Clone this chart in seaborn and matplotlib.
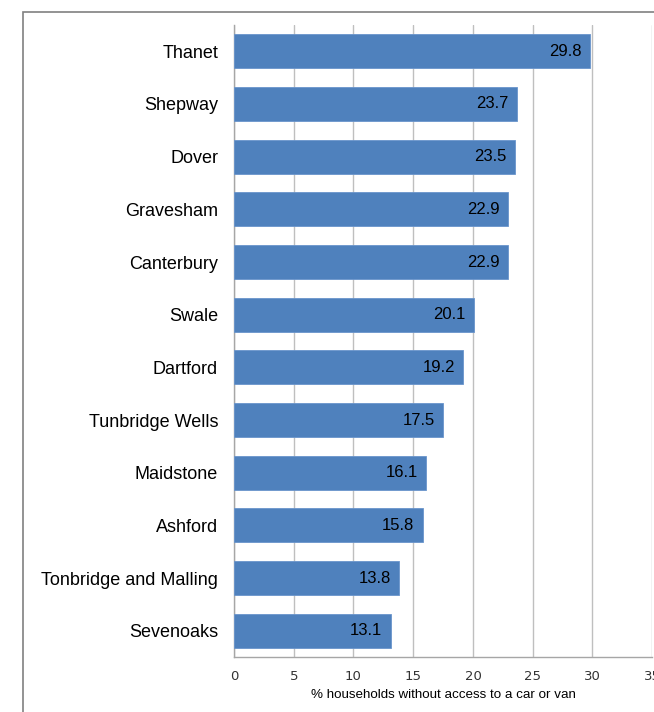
import pandas as pd
import numpy as np
import matplotlib
matplotlib.use('Agg')
import matplotlib.pyplot as plt
import seaborn as sns
from matplotlib.patches import Rectangle

districts = ['Thanet', 'Shepway', 'Dover', 'Gravesham', 'Canterbury', 'Swale',
             'Dartford', 'Tunbridge Wells', 'Maidstone', 'Ashford',
             'Tonbridge and Malling', 'Sevenoaks']
pct_no_car = [29.8, 23.7, 23.5, 22.9, 22.9, 20.1, 19.2, 17.5, 16.1, 15.8, 13.8, 13.1]
x_ticks = [0, 5, 10, 15, 20, 25, 30, 35]

df = pd.DataFrame({'district': districts, 'pct': pct_no_car})

sns.set_style('white')
plt.rcParams['font.family'] = ['Liberation Sans', 'DejaVu Sans']

fig = plt.figure(figsize=(6.54, 7.12), dpi=100)
ax = fig.add_axes([0.3578, 0.0772, 0.6395, 0.8877])

sns.barplot(data=df, y='district', x='pct', color='#4F81BD', saturation=1,
            width=0.65, edgecolor='#6A95CC', linewidth=0.6, ax=ax, zorder=3)

for i, v in enumerate(pct_no_car):
    ax.text(v - 0.7, i, f'{v:.1f}', ha='right', va='center', fontsize=12, color='black', zorder=4)

ax.set_xlim(0, 35)
ax.set_ylim(11.5, -0.5)
ax.set_xticks(x_ticks)
ax.set_xticklabels([str(t) for t in x_ticks], fontsize=9.5, color='#333333',
                   family=['DejaVu Sans'])
ax.tick_params(axis='x', length=0, pad=9)
ax.tick_params(axis='y', length=0, pad=11.5, labelsize=13, labelcolor='black')
ax.xaxis.grid(True, color='#BFBFBF', linewidth=1, zorder=0)
ax.set_axisbelow(True)
ax.set_ylabel('')
ax.set_xlabel('% households without access to a car or van', fontsize=9.6, labelpad=5,
              color='black')
for s in ['top', 'right']:
    ax.spines[s].set_visible(False)
for s in ['left', 'bottom']:
    ax.spines[s].set_color('#A6A6A6')
    ax.spines[s].set_linewidth(1)

# outer chart border
fig.patches.append(Rectangle((23 / 654, -0.01), 1.0, 1 - 12 / 712 + 0.01,
                             transform=fig.transFigure, fill=False,
                             edgecolor='#808080', linewidth=1.2))

fig.savefig('out.png', dpi=100)
